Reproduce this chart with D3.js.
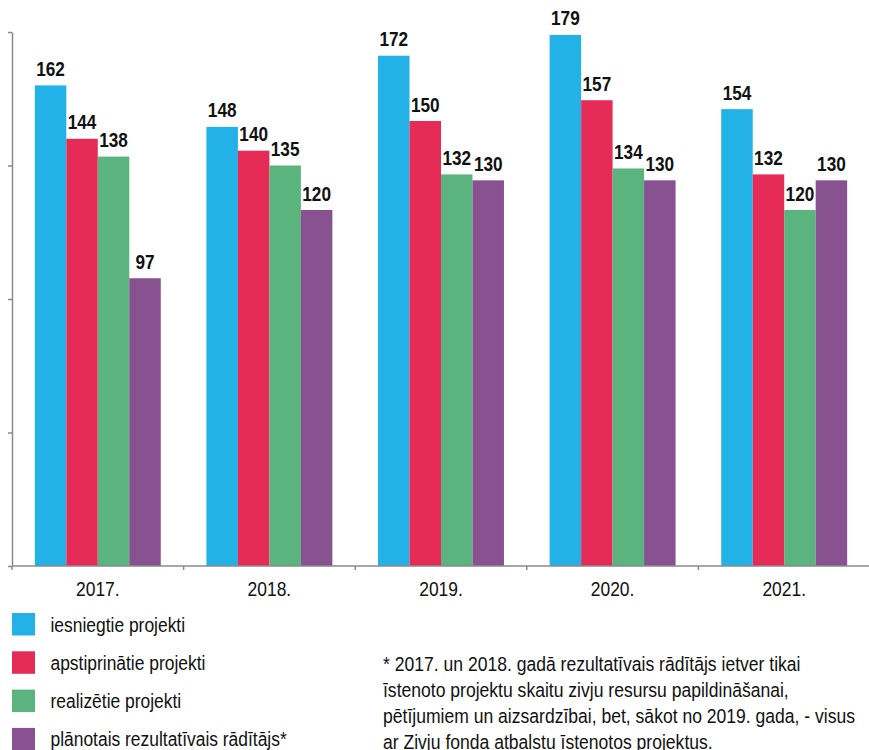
<!DOCTYPE html>
<html>
<head>
<meta charset="utf-8">
<script src="https://cdn.jsdelivr.net/npm/d3@7/dist/d3.min.js"></script>
<style>
  html, body { margin: 0; padding: 0; background: #fff; }
  svg { display: block; }
  text { font-family: "Liberation Sans", Arial, sans-serif; fill: #111; }
</style>
</head>
<body>
<svg id="chart" width="869" height="750"></svg>
<script>
// Gada kategorijas
const years = ["2017.", "2018.", "2019.", "2020.", "2021."];

// Sērijas
const seriesNames = [
  "iesniegtie projekti",
  "apstiprinātie projekti",
  "realizētie projekti",
  "plānotais rezultatīvais rādītājs*"
];
const seriesColors = ["#22b2e7", "#e62b56", "#5bb47e", "#885290"];

const submitted = [162, 148, 172, 179, 154];
const approved  = [144, 140, 150, 157, 132];
const realized  = [138, 135, 132, 134, 120];
const planned   = [97, 120, 130, 130, 130];
const seriesValues = [submitted, approved, realized, planned];

// Y ass iedaļas (bez uzrakstiem)
const yTicks = [0, 45, 90, 135, 180];

const footnoteLines = [
  "* 2017. un 2018. gadā rezultatīvais rādītājs ietver tikai",
  "īstenoto projektu skaitu zivju resursu papildināšanai,",
  "pētījumiem un aizsardzībai, bet, sākot no 2019. gada, - visus",
  "ar Zivju fonda atbalstu īstenotos projektus."
];

const svg = d3.select("#chart");
const axisColor = "#8a8a8a";

const x0 = d3.scaleBand().domain(years).range([12, 870]).padding(0);
const x1 = d3.scaleBand().domain(d3.range(4)).range([0, x0.bandwidth()])
  .paddingInner(0).paddingOuter(0.725);
const y = d3.scaleLinear().domain([0, 180]).range([566, 32]);

// Šaurināts teksts: novieto un saspiež horizontāli
function placeText(sel, x, yy, sx) {
  return sel.attr("transform", `translate(${x},${yy}) scale(${sx},1)`);
}

// Stabiņi
const groups = svg.append("g").selectAll("g")
  .data(years)
  .join("g")
  .attr("transform", d => `translate(${x0(d)},0)`);

groups.each(function(yr, i) {
  const g = d3.select(this);
  seriesValues.forEach((vals, s) => {
    const v = vals[i];
    g.append("rect")
      .attr("x", x1(s))
      .attr("y", y(v))
      .attr("width", x1.bandwidth())
      .attr("height", y(0) - y(v))
      .attr("fill", seriesColors[s]);
    placeText(g.append("text"), x1(s) + x1.bandwidth() / 2, y(v) - 9.5, 0.86)
      .attr("text-anchor", "middle")
      .attr("font-size", 20)
      .attr("font-weight", "bold")
      .text(v);
  });
});

// Y ass
const yAxis = d3.axisLeft(y).tickValues(yTicks).tickSize(4).tickSizeOuter(0).tickFormat("");
const yg = svg.append("g").attr("transform", "translate(12,0)").call(yAxis);
yg.selectAll("path, line").attr("stroke", axisColor).attr("stroke-width", 1.5);

// X ass ar iedaļām starp kategorijām
const xg = svg.append("g");
xg.append("line")
  .attr("x1", 12).attr("x2", 869)
  .attr("y1", y(0)).attr("y2", y(0))
  .attr("stroke", axisColor).attr("stroke-width", 1.5);
const bounds = years.map(d => x0(d)).concat([x0.range()[1]]);
xg.selectAll("line.tick")
  .data(bounds)
  .join("line")
  .attr("class", "tick")
  .attr("x1", d => d).attr("x2", d => d)
  .attr("y1", y(0)).attr("y2", y(0) + 4)
  .attr("stroke", axisColor).attr("stroke-width", 1.5);

years.forEach(yr => {
  placeText(xg.append("text"), x0(yr) + x0.bandwidth() / 2, 596, 0.83)
    .attr("text-anchor", "middle")
    .attr("font-size", 21)
    .text(yr);
});

// Leģenda
const legend = svg.append("g");
seriesNames.forEach((name, s) => {
  const top = 613 + s * 38.3;
  legend.append("rect")
    .attr("x", 12).attr("y", top)
    .attr("width", 23).attr("height", 22.5)
    .attr("fill", seriesColors[s]);
  placeText(legend.append("text"), 50.5, top + 18.5, 0.83)
    .attr("font-size", 21)
    .text(name);
});

// Piezīme
const note = svg.append("g");
footnoteLines.forEach((line, i) => {
  placeText(note.append("text"), 383, 671 + i * 26, 0.9)
    .attr("font-size", 19.5)
    .text(line);
});
</script>
</body>
</html>
